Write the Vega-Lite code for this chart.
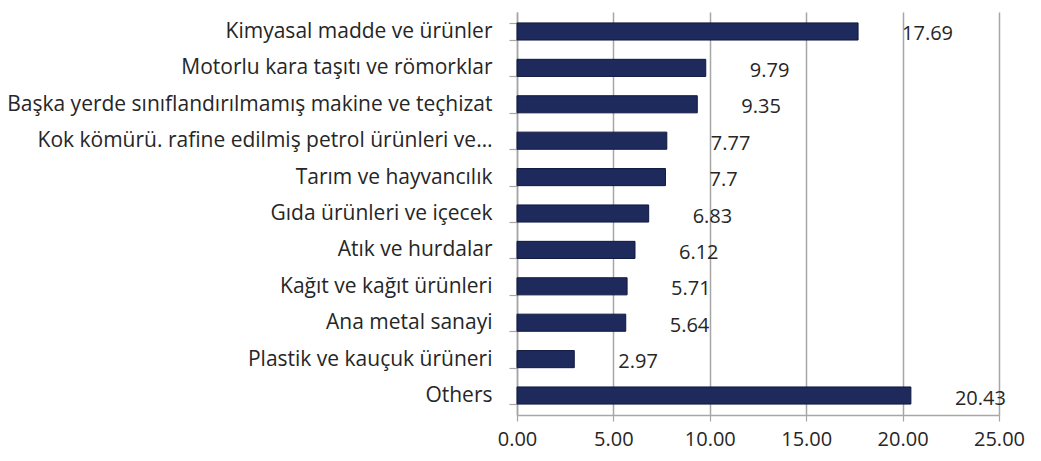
{
  "$schema": "https://vega.github.io/schema/vega-lite/v6.json",
  "width": 482,
  "height": 403,
  "autosize": {"type": "none"},
  "padding": {"left": 517, "top": 12, "right": 42, "bottom": 46},
  "background": "white",
  "config": {"view": {"stroke": null}, "font": "Open Sans"},
  "data": {"values": [
    {"category": "Kimyasal madde ve ürünler", "value": 17.69},
    {"category": "Motorlu kara taşıtı ve römorklar", "value": 9.79},
    {"category": "Başka yerde sınıflandırılmamış makine ve teçhizat", "value": 9.35},
    {"category": "Kok kömürü. rafine edilmiş petrol ürünleri ve…", "value": 7.77},
    {"category": "Tarım ve hayvancılık", "value": 7.7},
    {"category": "Gıda ürünleri ve içecek", "value": 6.83},
    {"category": "Atık ve hurdalar", "value": 6.12},
    {"category": "Kağıt ve kağıt ürünleri", "value": 5.71},
    {"category": "Ana metal sanayi", "value": 5.64},
    {"category": "Plastik ve kauçuk ürüneri", "value": 2.97},
    {"category": "Others", "value": 20.43}
  ]},
  "encoding": {
    "y": {
      "field": "category", "type": "nominal", "sort": null,
      "scale": {"paddingInner": 0.53, "paddingOuter": 0.3},
      "axis": {
        "title": null, "labelFontSize": 21, "labelColor": "#262626", "labelLimit": 600,
        "labelPadding": 17, "tickBand": "extent", "tickColor": "#a6a6a6", "tickSize": 8,
        "domainColor": "#a6a6a6", "domainWidth": 1.5, "tickWidth": 1.2
      }
    }
  },
  "layer": [
    {
      "mark": {"type": "bar", "color": "#1f2a5c", "stroke": "#0f1740", "strokeWidth": 1},
      "encoding": {
        "x": {
          "field": "value", "type": "quantitative",
          "scale": {"domain": [0, 25], "nice": false},
          "axis": {
            "title": null, "format": ".2f", "values": [0, 5, 10, 15, 20, 25],
            "labelFontSize": 20, "labelColor": "#262626", "labelPadding": 8, "labelFlush": false,
            "grid": true, "gridColor": "#a6a6a6", "gridWidth": 1.5,
            "domainColor": "#a6a6a6", "domainWidth": 1.5,
            "tickColor": "#a6a6a6", "tickSize": 6, "tickWidth": 1.2
          }
        }
      }
    },
    {
      "mark": {"type": "text", "align": "left", "baseline": "middle", "dx": 44, "dy": 3, "fontSize": 20, "color": "#262626"},
      "encoding": {
        "x": {"field": "value", "type": "quantitative"},
        "text": {"field": "value", "type": "quantitative"}
      }
    }
  ]
}
